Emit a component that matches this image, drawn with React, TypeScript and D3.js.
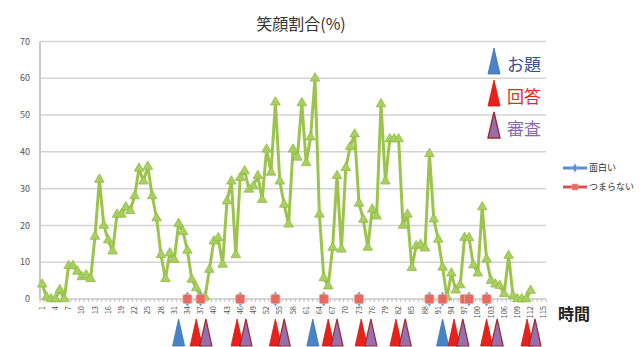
import React from 'react';
import * as d3 from 'd3';

// 笑顔割合 (%) per time step 1..112
const smileRatio = [
  4, 0.5, 0, 0, 2.5, 0, 9, 9, 7.5, 6, 6.5, 5.5, 17, 32.5, 20, 16, 13, 23, 23, 25,
  24, 28, 35.5, 32, 36, 28, 22, 12, 5.5, 12.5, 10.7, 20.5, 18.3, 13.2, 5.3, 3, 0.7, 0.5, 8, 15.7,
  16.6, 9.4, 26.6, 32, 12, 33, 34.8, 29.8, 30.7, 33.5, 27, 40.7, 34.4, 53.5, 32, 25.7, 20.3, 40.7, 38.5, 53.3,
  37, 44, 60, 23, 5.7, 3.5, 14, 33.5, 13.5, 35.7, 41.4, 44.8, 26, 21.6, 14, 24.4, 22.5, 53, 32, 43.5,
  43.5, 43.5, 20, 23, 8.5, 14.4, 14.8, 13.8, 39.5, 21.7, 16.2, 8.6, 0.5, 7, 2.4, 3.8, 16.7, 16.6, 9.2, 7,
  25, 10.8, 5, 4, 3.6, 1.4, 11.8, 0.9, 0, 0, 0, 2.3,
];

// time steps where 面白い / つまらない were marked (value 0)
const omoshiroiTimes = [34, 37, 46, 54, 65, 73, 89, 92, 98, 102];
const tsumaranaiTimes = [34, 37, 46, 54, 65, 73, 89, 92, 97, 98, 102];

// event markers under the axis
const odaiTimes = [32, 62.5, 92];
const kaitouTimes = [36, 45.3, 54, 66, 73.5, 81.4, 94.6, 102, 111.2];
const shinsaTimes = [38.2, 47.3, 56, 68, 75.7, 83.5, 96.6, 104.4, 113];

const categoryCount = 115;
const xTickLabels = d3.range(1, categoryCount + 1, 3);
const yTicks = [0, 10, 20, 30, 40, 50, 60, 70];

const eventLegend = [
  { label: 'お題', fill: '#4a84c8', stroke: '#3a70b0', text: '#34528f' },
  { label: '回答', fill: '#e8211a', stroke: '#d01a14', text: '#e8271f' },
  { label: '審査', fill: '#9470b0', stroke: '#a02a2a', text: '#8a68b0' },
];

const W = 642;
const H = 347;
const left = 40;
const right = 546;
const top = 41.5;
const bottom = 299;
const jp = '"Noto Sans CJK JP", "Noto Sans", sans-serif';

export default function App() {
  const x = d3.scaleLinear().domain([0.5, categoryCount + 0.5]).range([left, right]);
  const y = d3.scaleLinear().domain([0, 70]).range([bottom, top]);

  const line = d3
    .line<number>()
    .x((_, i) => x(i + 1))
    .y((d) => y(d));

  const tri = d3.symbol(d3.symbolTriangle, 40)();
  const diamond = d3.symbol(d3.symbolDiamond, 60)();

  const bigTri = (cx: number, y0: number, y1: number, w = 12) =>
    `M${cx - w / 2},${y1}L${cx},${y0}L${cx + w / 2},${y1}Z`;

  const triTop = 319;
  const triBottom = 346;

  return (
    <svg
      width={W}
      height={H}
      style={{ position: 'absolute', left: 0, top: 0, background: '#fff' }}
      fontFamily={jp}
    >
      {/* title */}
      <text x={301} y={30} textAnchor="middle" fontSize={16} fill="#333">
        笑顔割合(%)
      </text>

      {/* gridlines + y labels */}
      {yTicks.map((t) => (
        <g key={t}>
          {t > 0 && (
            <line x1={left} x2={right} y1={y(t)} y2={y(t)} stroke="#d3d3d3" strokeWidth={1.5} />
          )}
          <text x={30} y={y(t)} dy="0.35em" textAnchor="end" fontSize={9} fill="#555">
            {t}
          </text>
        </g>
      ))}

      {/* axes */}
      <line x1={left} x2={left} y1={top} y2={bottom} stroke="#c8c8c8" strokeWidth={2} />
      <line x1={left} x2={right} y1={bottom} y2={bottom} stroke="#c8c8c8" strokeWidth={1.5} />
      {d3.range(0, categoryCount + 1).map((i) => (
        <line
          key={i}
          x1={x(i + 0.5)}
          x2={x(i + 0.5)}
          y1={bottom}
          y2={bottom + 3}
          stroke="#c0c0c0"
          strokeWidth={1}
        />
      ))}
      {xTickLabels.map((c) => (
        <text
          key={c}
          transform={`translate(${x(c)},${306}) rotate(-90)`}
          dy="0.35em"
          textAnchor="end"
          fontSize={7.5}
          fill="#555"
        >
          {c}
        </text>
      ))}
      <text x={558} y={320} fontSize={16} fontWeight="bold" fill="#222">
        時間
      </text>

      {/* green line */}
      <path d={line(smileRatio) ?? ''} fill="none" stroke="#9cc44c" strokeWidth={3} strokeLinejoin="round" />
      {smileRatio.map((v, i) => (
        <path
          key={i}
          d={tri}
          transform={`translate(${x(i + 1)},${y(v)})`}
          fill="#a8cf60"
          stroke="#8fbb45"
          strokeWidth={0.8}
        />
      ))}

      {/* 面白い / つまらない markers */}
      {omoshiroiTimes.map((c) => (
        <path
          key={'o' + c}
          d={diamond}
          transform={`translate(${x(c)},${y(0)})`}
          fill="#5b8fd4"
          stroke="#8fb4e4"
          strokeWidth={0.8}
        />
      ))}
      {tsumaranaiTimes.map((c) => (
        <rect
          key={'t' + c}
          x={x(c) - 4.5}
          y={y(0) - 4.5}
          width={9}
          height={9}
          rx={1.5}
          fill="#e66a60"
          stroke="#f2a39c"
          strokeWidth={0.8}
        />
      ))}

      {/* event triangles under the axis */}
      {odaiTimes.map((c) => (
        <path key={'a' + c} d={bigTri(x(c), triTop, triBottom)} fill={eventLegend[0].fill} stroke={eventLegend[0].stroke} strokeWidth={0.8} />
      ))}
      {kaitouTimes.map((c) => (
        <path key={'k' + c} d={bigTri(x(c), triTop, triBottom)} fill={eventLegend[1].fill} stroke={eventLegend[1].stroke} strokeWidth={0.8} />
      ))}
      {shinsaTimes.map((c) => (
        <path key={'s' + c} d={bigTri(x(c), triTop, triBottom)} fill={eventLegend[2].fill} stroke={eventLegend[2].stroke} strokeWidth={1.2} />
      ))}

      {/* event legend */}
      {eventLegend.map((e, i) => {
        const y0 = 48 + i * 32;
        return (
          <g key={e.label}>
            <path d={bigTri(494, y0, y0 + 26)} fill={e.fill} stroke={e.stroke} strokeWidth={i === 2 ? 1.4 : 0.8} />
            <text x={507} y={y0 + 17} dy="0.35em" fontSize={17} fill={e.text}>
              {e.label}
            </text>
          </g>
        );
      })}

      {/* series legend */}
      <g>
        <line x1={563} x2={587} y1={168} y2={168} stroke="#5b8fd4" strokeWidth={3} />
        <path d={diamond} transform="translate(575,168) scale(0.6)" fill="#5b8fd4" stroke="#8fb4e4" />
        <text x={589} y={168} dy="0.35em" fontSize={9} fill="#333">
          面白い
        </text>
        <line x1={563} x2={587} y1={187} y2={187} stroke="#d9534f" strokeWidth={3} />
        <rect x={572} y={184} width={6} height={6} fill="#e66a60" stroke="#f2a39c" strokeWidth={0.6} />
        <text x={589} y={187} dy="0.35em" fontSize={9} fill="#333">
          つまらない
        </text>
      </g>
    </svg>
  );
}
